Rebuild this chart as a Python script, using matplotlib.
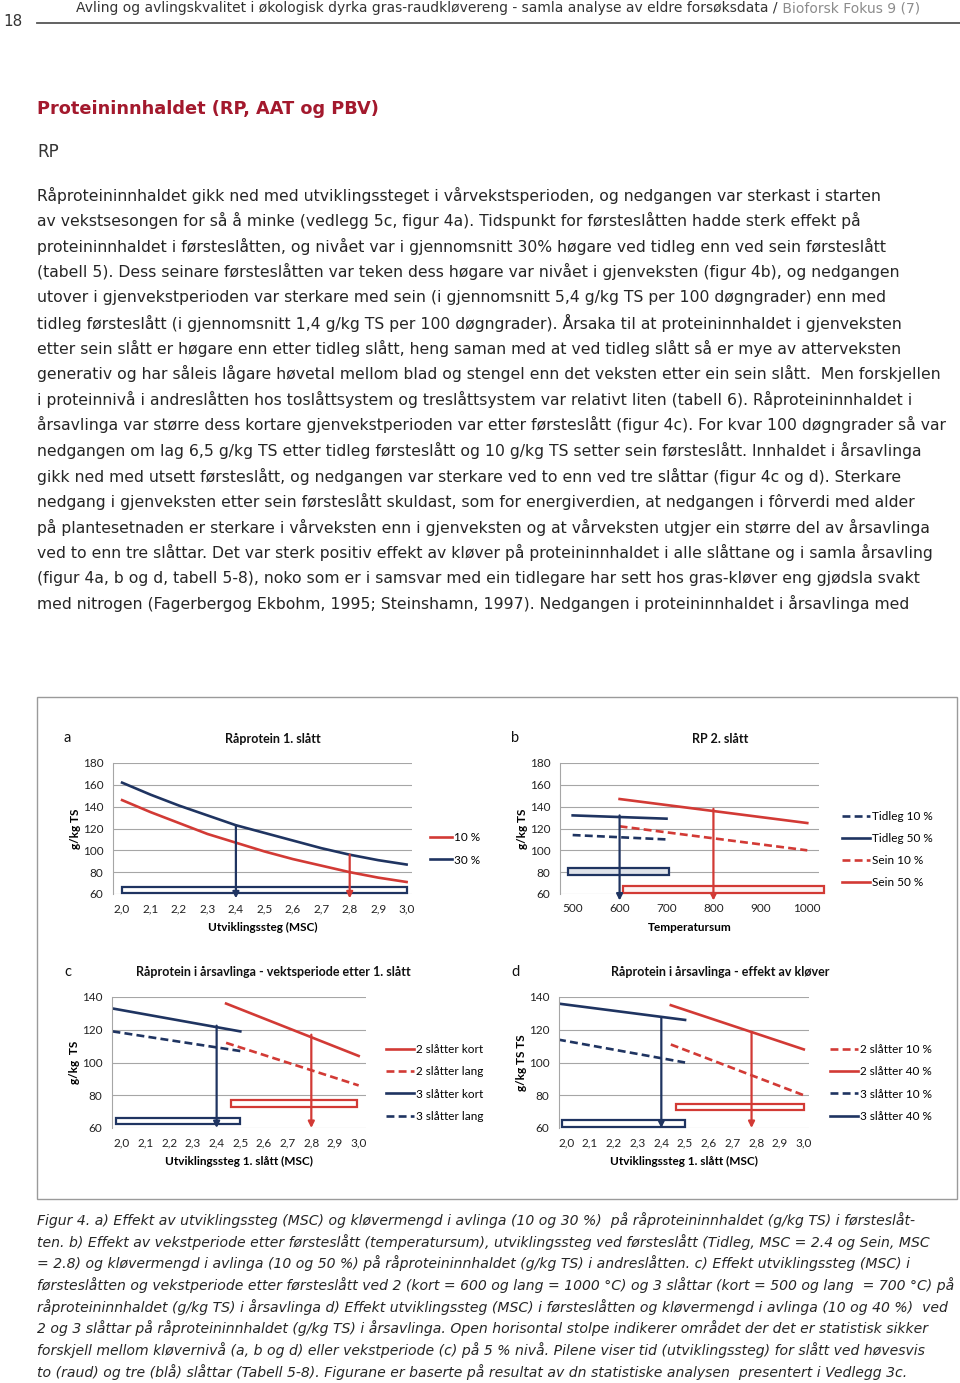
import matplotlib
matplotlib.use("Agg")
import matplotlib.pyplot as plt
from matplotlib.patches import Rectangle
from matplotlib.lines import Line2D

W, H = 960, 1383
RED = "#d23a35"
NAVY = "#1f3461"
GRID = "#a6a6a6"
CHART_FONT = ["Lato", "DejaVu Sans"]

# ---------------- data ----------------
msc_a = [2.0, 2.1, 2.2, 2.3, 2.4, 2.5, 2.6, 2.7, 2.8, 2.9, 3.0]
rp_a_10 = [146, 135, 125, 115, 107, 99, 92, 86, 80, 75, 71]
rp_a_30 = [162, 151, 141, 132, 123, 116, 109, 102, 96, 91, 87]

temp_tidleg = [500, 700]
tidleg_10 = [114, 110]
tidleg_50 = [132, 129]
temp_sein = [600, 1000]
sein_10 = [122, 100]
sein_50 = [147, 125]

msc_c3 = [1.96, 2.5]
c_3_kort = [133, 119]
c_3_lang = [119, 107]
msc_c2 = [2.44, 3.0]
c_2_kort = [136, 104]
c_2_lang = [112, 86]

msc_d3 = [1.965, 2.5]
d_3_40 = [136, 126]
d_3_10 = [114, 100]
msc_d2 = [2.44, 3.0]
d_2_40 = [135, 108]
d_2_10 = [111, 80]

msc_ticks = [2.0, 2.1, 2.2, 2.3, 2.4, 2.5, 2.6, 2.7, 2.8, 2.9, 3.0]
msc_ticklabels = ["2,0", "2,1", "2,2", "2,3", "2,4", "2,5", "2,6", "2,7", "2,8", "2,9", "3,0"]
temp_ticks = [500, 600, 700, 800, 900, 1000]

body_lines = [
    "Råproteininnhaldet gikk ned med utviklingssteget i vårvekstsperioden, og nedgangen var sterkast i starten",
    "av vekstsesongen for så å minke (vedlegg 5c, figur 4a). Tidspunkt for førsteslåtten hadde sterk effekt på",
    "proteininnhaldet i førsteslåtten, og nivået var i gjennomsnitt 30% høgare ved tidleg enn ved sein førsteslått",
    "(tabell 5). Dess seinare førsteslåtten var teken dess høgare var nivået i gjenveksten (figur 4b), og nedgangen",
    "utover i gjenvekstperioden var sterkare med sein (i gjennomsnitt 5,4 g/kg TS per 100 døgngrader) enn med",
    "tidleg førsteslått (i gjennomsnitt 1,4 g/kg TS per 100 døgngrader). Årsaka til at proteininnhaldet i gjenveksten",
    "etter sein slått er høgare enn etter tidleg slått, heng saman med at ved tidleg slått så er mye av atterveksten",
    "generativ og har såleis lågare høvetal mellom blad og stengel enn det veksten etter ein sein slått.  Men forskjellen",
    "i proteinnivå i andreslåtten hos toslåttsystem og treslåttsystem var relativt liten (tabell 6). Råproteininnhaldet i",
    "årsavlinga var større dess kortare gjenvekstperioden var etter førsteslått (figur 4c). For kvar 100 døgngrader så var",
    "nedgangen om lag 6,5 g/kg TS etter tidleg førsteslått og 10 g/kg TS setter sein førsteslått. Innhaldet i årsavlinga",
    "gikk ned med utsett førsteslått, og nedgangen var sterkare ved to enn ved tre slåttar (figur 4c og d). Sterkare",
    "nedgang i gjenveksten etter sein førsteslått skuldast, som for energiverdien, at nedgangen i fôrverdi med alder",
    "på plantesetnaden er sterkare i vårveksten enn i gjenveksten og at vårveksten utgjer ein større del av årsavlinga",
    "ved to enn tre slåttar. Det var sterk positiv effekt av kløver på proteininnhaldet i alle slåttane og i samla årsavling",
    "(figur 4a, b og d, tabell 5-8), noko som er i samsvar med ein tidlegare har sett hos gras-kløver eng gjødsla svakt",
    "med nitrogen (Fagerbergog Ekbohm, 1995; Steinshamn, 1997). Nedgangen i proteininnhaldet i årsavlinga med",
]

caption_lines = [
    "Figur 4. a) Effekt av utviklingssteg (MSC) og kløvermengd i avlinga (10 og 30 %)  på råproteininnhaldet (g/kg TS) i førsteslåt-",
    "ten. b) Effekt av vekstperiode etter førsteslått (temperatursum), utviklingssteg ved førsteslått (Tidleg, MSC = 2.4 og Sein, MSC",
    "= 2.8) og kløvermengd i avlinga (10 og 50 %) på råproteininnhaldet (g/kg TS) i andreslåtten. c) Effekt utviklingssteg (MSC) i",
    "førsteslåtten og vekstperiode etter førsteslått ved 2 (kort = 600 og lang = 1000 °C) og 3 slåttar (kort = 500 og lang  = 700 °C) på",
    "råproteininnhaldet (g/kg TS) i årsavlinga d) Effekt utviklingssteg (MSC) i førsteslåtten og kløvermengd i avlinga (10 og 40 %)  ved",
    "2 og 3 slåttar på råproteininnhaldet (g/kg TS) i årsavlinga. Open horisontal stolpe indikerer området der det er statistisk sikker",
    "forskjell mellom kløvernivå (a, b og d) eller vekstperiode (c) på 5 % nivå. Pilene viser tid (utviklingssteg) for slått ved høvesvis",
    "to (raud) og tre (blå) slåttar (Tabell 5-8). Figurane er baserte på resultat av dn statistiske analysen  presentert i Vedlegg 3c.",
]

# ---------------- figure ----------------
fig = plt.figure(figsize=(W / 100, H / 100), dpi=100)
renderer = fig.canvas.get_renderer()


def fx(x):
    return x / W


def fy(y):
    return 1 - y / H


def ptext(x, y, s, **kw):
    kw.setdefault("va", "center")
    return fig.text(fx(x), fy(y), s, **kw)


def text_width(s, size, **kw):
    t = fig.text(0, 0, s, fontsize=size, **kw)
    w = t.get_window_extent(renderer).width
    t.remove()
    return w


def fit_size(s, width, size0=10, **kw):
    return size0 * width / text_width(s, size0, **kw)


# header
hdr_font = ["Liberation Sans Narrow", "DejaVu Sans"]
ptext(3, 22, "18", fontsize=11, family=hdr_font, color="#333333")
hdr_dark = "Avling og avlingskvalitet i økologisk dyrka gras-raudkløvereng - samla analyse av eldre forsøksdata /"
hdr_grey = " Bioforsk Fokus 9 (7)"
hs = fit_size(hdr_dark + hdr_grey, 920 - 73, family=hdr_font)
tg = ptext(920, 8, hdr_grey, fontsize=hs, family=hdr_font, color="#8c8c8c", ha="right")
wg = tg.get_window_extent(renderer).width
ptext(920 - wg, 8, hdr_dark, fontsize=hs, family=hdr_font, color="#333333", ha="right")
fig.add_artist(Line2D([fx(37), fx(960)], [fy(23), fy(23)], color="#555555", lw=1.3))

# title
ttl = "Proteininnhaldet (RP, AAT og PBV)"
ts = fit_size(ttl, 342, family=hdr_font, fontweight="bold")
ptext(37, 109, ttl, fontsize=ts, family=hdr_font, fontweight="bold", color="#a3192d")
ptext(37, 152, "RP", fontsize=ts * 0.95, family=hdr_font, color="#333333")

# body text
bs = fit_size(body_lines[0], 881 - 37, family="DejaVu Sans")
for i, line in enumerate(body_lines):
    ptext(37, 195 + i * 25.55, line, fontsize=bs, family="DejaVu Sans", color="#262626")

# caption: fit so the widest line stays within the page
cap_widths = [text_width(l, 10, family="DejaVu Sans", style="italic") for l in caption_lines]
cs = 10 * (956 - 37) / max(cap_widths)
for i, line in enumerate(caption_lines):
    ptext(37, 1220 + i * 21.7, line, fontsize=cs, family="DejaVu Sans", style="italic", color="#262626")

# chart frame
fig.add_artist(Rectangle((fx(36.5), fy(1199)), fx(957 - 36.5), (1199 - 697) / H,
                         transform=fig.transFigure, fill=False, edgecolor="#9a9a9a", lw=1.0))

TICK_FS = 8.5


def make_ax(x0, x1, ytop, ybot, xlim, ylim, yticks):
    ax = fig.add_axes([fx(x0), fy(ybot), fx(x1 - x0), (ybot - ytop) / H])
    ax.set_xlim(*xlim)
    ax.set_ylim(*ylim)
    ax.set_yticks(yticks)
    for sp in ["top", "right", "bottom"]:
        ax.spines[sp].set_visible(False)
    ax.spines["left"].set_color(GRID)
    ax.spines["left"].set_linewidth(0.8)
    ax.grid(axis="y", color=GRID, lw=0.8)
    ax.set_axisbelow(True)
    ax.tick_params(length=0, labelsize=TICK_FS, colors="#222222")
    ax.tick_params(axis="x", pad=6.5)
    ax.tick_params(axis="y", pad=7)
    return ax


def arrow(ax, x, y0, y1, color):
    ax.annotate("", xy=(x, y1), xytext=(x, y0),
                arrowprops=dict(arrowstyle="-|>", color=color, lw=1.6,
                                mutation_scale=9, shrinkA=0, shrinkB=0),
                annotation_clip=False)


def band(ax, x0, x1, y0, y1, color, fill="white"):
    ax.add_patch(Rectangle((x0, y0), x1 - x0, y1 - y0, facecolor=fill,
                           edgecolor=color, lw=1.6, clip_on=False, zorder=3))


def fmt_ax(ax, title, xlabel, ylabel, letter, lx, ly, tx, ty):
    for lab in ax.get_xticklabels() + ax.get_yticklabels():
        lab.set_family(CHART_FONT)
    ptext(lx, ly, letter, fontsize=10.5, family=CHART_FONT, color="#111111")
    ptext(tx, ty, title, fontsize=9, family=CHART_FONT, fontweight="bold", ha="center", color="#111111")
    ax.set_xlabel(xlabel, fontsize=8.5, fontweight="bold", family=CHART_FONT, labelpad=6)
    ax.set_ylabel(ylabel, fontsize=8.5, fontweight="bold", family=CHART_FONT, labelpad=1)


def legend(ax, handles, labels, x, y, hl):
    ax.legend(handles, labels, loc="center left", bbox_to_anchor=(fx(x), fy(y)),
              bbox_transform=fig.transFigure, frameon=False,
              handlelength=hl, handletextpad=0.15, labelspacing=0.95,
              borderpad=0, borderaxespad=0, prop={"family": CHART_FONT, "size": 8.5})


LW = 1.9
DASH = (3.0, 1.6)

# ---- panel a ----
ax = make_ax(113, 412, 763, 894, (1.968, 3.019), (60, 180), [60, 80, 100, 120, 140, 160, 180])
ax.set_xticks(msc_ticks)
ax.set_xticklabels(msc_ticklabels)
ha1, = ax.plot(msc_a, rp_a_10, color=RED, lw=LW)
ha2, = ax.plot(msc_a, rp_a_30, color=NAVY, lw=LW)
band(ax, 2.0, 3.0, 60.5, 66.5, NAVY)
arrow(ax, 2.4, rp_a_30[4], 56, NAVY)
arrow(ax, 2.8, rp_a_30[8], 56, RED)
fmt_ax(ax, "Råprotein 1. slått", "Utviklingssteg (MSC)", "g/kg TS", "a", 64, 738, 273, 739)
legend(ax, [ha1, ha2], ["10 %", "30 %"], 430, 849, 1.9)

# ---- panel b ----
ax = make_ax(560, 819, 763, 894, (473, 1025), (60, 180), [60, 80, 100, 120, 140, 160, 180])
ax.set_xticks(temp_ticks)
hb1, = ax.plot(temp_tidleg, tidleg_10, color=NAVY, lw=LW, dashes=DASH)
hb2, = ax.plot(temp_tidleg, tidleg_50, color=NAVY, lw=LW)
hb3, = ax.plot(temp_sein, sein_10, color=RED, lw=LW, dashes=DASH)
hb4, = ax.plot(temp_sein, sein_50, color=RED, lw=LW)
band(ax, 490, 705, 77.5, 83.5, NAVY, fill="#dfe3ea")
band(ax, 608, 1035, 61, 67, RED, fill="#fdf3f3")
arrow(ax, 600, tidleg_50[0], 54, NAVY)
arrow(ax, 800, 138, 54, RED)
fmt_ax(ax, "RP 2. slått", "Temperatursum", "g/kg TS", "b", 511, 738, 720, 739)
legend(ax, [hb1, hb2, hb3, hb4], ["Tidleg 10 %", "Tidleg 50 %", "Sein 10 %", "Sein 50 %"], 842, 849.5, 2.4)

# ---- panel c ----
ax = make_ax(112, 366, 997, 1128, (1.958, 3.031), (60, 140), [60, 80, 100, 120, 140])
ax.set_xticks(msc_ticks)
ax.set_xticklabels(msc_ticklabels)
hc1, = ax.plot(msc_c2, c_2_kort, color=RED, lw=LW)
hc2, = ax.plot(msc_c2, c_2_lang, color=RED, lw=LW, dashes=DASH)
hc3, = ax.plot(msc_c3, c_3_kort, color=NAVY, lw=LW)
hc4, = ax.plot(msc_c3, c_3_lang, color=NAVY, lw=LW, dashes=DASH)
band(ax, 1.975, 2.5, 62.4, 66.1, NAVY)
band(ax, 2.46, 2.995, 72.8, 76.9, RED)
arrow(ax, 2.4, 122.5, 60, NAVY)
arrow(ax, 2.8, 117, 60, RED)
fmt_ax(ax, "Råprotein i årsavlinga - vektsperiode etter 1. slått", "Utviklingssteg 1. slått (MSC)",
       "g/kg  TS", "c", 64, 972, 273, 972)
legend(ax, [hc1, hc2, hc3, hc4], ["2 slåtter kort", "2 slåtter lang", "3 slåtter kort", "3 slåtter lang"],
       386, 1083, 2.4)

# ---- panel d ----
ax = make_ax(559, 809, 997, 1128, (1.969, 3.022), (60, 140), [60, 80, 100, 120, 140])
ax.set_xticks(msc_ticks)
ax.set_xticklabels(msc_ticklabels)
hd1, = ax.plot(msc_d2, d_2_10, color=RED, lw=LW, dashes=DASH)
hd2, = ax.plot(msc_d2, d_2_40, color=RED, lw=LW)
hd3, = ax.plot(msc_d3, d_3_10, color=NAVY, lw=LW, dashes=DASH)
hd4, = ax.plot(msc_d3, d_3_40, color=NAVY, lw=LW)
band(ax, 1.98, 2.5, 60.6, 64.7, NAVY)
band(ax, 2.46, 3.0, 71.2, 74.8, RED)
arrow(ax, 2.4, 127, 60, NAVY)
arrow(ax, 2.78, 118, 60, RED)
fmt_ax(ax, "Råprotein i årsavlinga - effekt av kløver", "Utviklingssteg 1. slått (MSC)",
       "g/kg TS TS", "d", 511, 972, 720, 972)
legend(ax, [hd1, hd2, hd3, hd4], ["2 slåtter 10 %", "2 slåtter 40 %", "3 slåtter 10 %", "3 slåtter 40 %"],
       830, 1083, 2.4)

fig.savefig("out.png", dpi=100)
